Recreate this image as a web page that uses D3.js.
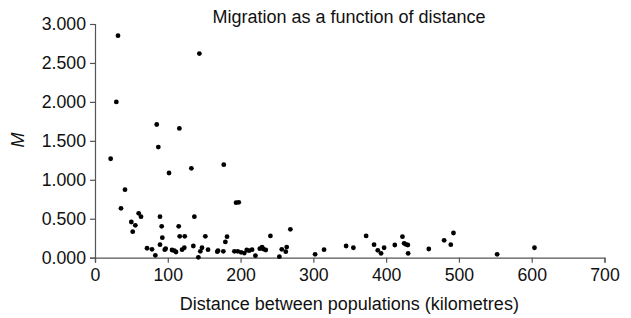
<!DOCTYPE html>
<html>
<head>
<meta charset="utf-8">
<script src="https://cdn.jsdelivr.net/npm/d3@7"></script>
<style>
  body { margin: 0; background: #fff; }
  svg text { font-family: "Liberation Sans", Arial, sans-serif; fill: #111; }
</style>
</head>
<body>
<svg width="631" height="318"></svg>
<script>
// distance between populations (km) and migration M
const distance = [31.6, 143.4, 29.3, 84.8, 115.9, 87.0, 21.5, 101.7, 132.4, 176.9,
  193.8, 197.5, 41.2, 35.7, 60.0, 63.2, 49.9, 55.4, 51.8, 89.3,
  91.6, 92.5, 89.3, 95.8, 97.1, 71.5, 78.3, 82.9, 105.8, 109.0,
  111.3, 115.0, 116.4, 123.3, 119.6, 122.7, 136.5, 135.1, 142.0, 144.7,
  147.0, 151.6, 155.3, 168.0, 169.0, 176.3, 179.1, 181.4, 191.5, 196.1,
  200.7, 205.2, 208.5, 211.7, 215.8, 220.4, 226.4, 229.5, 231.3, 234.6,
  241.0, 253.3, 256.6, 263.4, 262.1, 268.4, 302.4, 314.7, 345.0, 355.0,
  372.5, 383.4, 388.5, 393.0, 397.2, 411.9, 422.4, 424.7, 427.0, 429.8,
  430.2, 458.6, 479.7, 488.8, 492.5, 552.5, 603.8];
const migration = [2.85, 2.62, 2.00, 1.71, 1.66, 1.42, 1.27, 1.087, 1.147, 1.194,
  0.706, 0.711, 0.873, 0.634, 0.570, 0.526, 0.458, 0.416, 0.334, 0.526,
  0.403, 0.257, 0.167, 0.103, 0.116, 0.121, 0.108, 0.031, 0.099, 0.090,
  0.073, 0.403, 0.275, 0.275, 0.103, 0.128, 0.526, 0.150, 0.005, 0.082,
  0.128, 0.275, 0.103, 0.077, 0.090, 0.082, 0.202, 0.270, 0.082, 0.082,
  0.069, 0.060, 0.099, 0.090, 0.103, 0.026, 0.116, 0.137, 0.112, 0.099,
  0.279, 0.013, 0.108, 0.137, 0.077, 0.364, 0.043, 0.103, 0.150, 0.128,
  0.279, 0.167, 0.095, 0.056, 0.128, 0.163, 0.270, 0.185, 0.172, 0.163,
  0.056, 0.112, 0.223, 0.167, 0.317, 0.043, 0.128];

const xTicks = [0, 100, 200, 300, 400, 500, 600, 700];
const yTicks = [0, 0.5, 1, 1.5, 2, 2.5, 3];

const svg = d3.select('svg');
const axisColor = '#555';

const x = d3.scaleLinear().domain([0, 700]).range([95, 604.5]);
const y = d3.scaleLinear().domain([0, 3]).range([257.7, 24]);

// x axis
const gx = svg.append('g')
  .attr('transform', 'translate(0,' + y(0) + ')')
  .call(d3.axisBottom(x).tickValues(xTicks).tickSize(5).tickPadding(6).tickFormat(d3.format('d')));

// y axis
const gy = svg.append('g')
  .attr('transform', 'translate(' + x(0) + ',0)')
  .call(d3.axisLeft(y).tickValues(yTicks).tickSize(5).tickPadding(4).tickFormat(d3.format('.3f')));

[gx, gy].forEach(g => {
  g.select('.domain').attr('stroke', axisColor).attr('stroke-width', 1.2);
  g.selectAll('.tick line').attr('stroke', axisColor).attr('stroke-width', 1.2);
  g.selectAll('.tick text').attr('font-size', 17.7).attr('fill', '#111')
    .attr('font-family', '"Liberation Sans", Arial, sans-serif');
});

// points
svg.append('g').selectAll('circle')
  .data(distance.map((d, i) => [d, migration[i]]))
  .enter().append('circle')
  .attr('cx', d => x(d[0]))
  .attr('cy', d => y(d[1]))
  .attr('r', 2.4)
  .attr('fill', '#000');

svg.append('text')
  .attr('x', 349).attr('y', 23)
  .attr('text-anchor', 'middle')
  .attr('font-size', 18)
  .text('Migration as a function of distance');

svg.append('text')
  .attr('x', 349.3).attr('y', 310)
  .attr('text-anchor', 'middle')
  .attr('font-size', 18)
  .text('Distance between populations (kilometres)');

svg.append('text')
  .attr('transform', 'translate(24,140) rotate(-90)')
  .attr('text-anchor', 'middle')
  .attr('font-size', 18)
  .attr('font-style', 'italic')
  .text('M');
</script>
</body>
</html>
